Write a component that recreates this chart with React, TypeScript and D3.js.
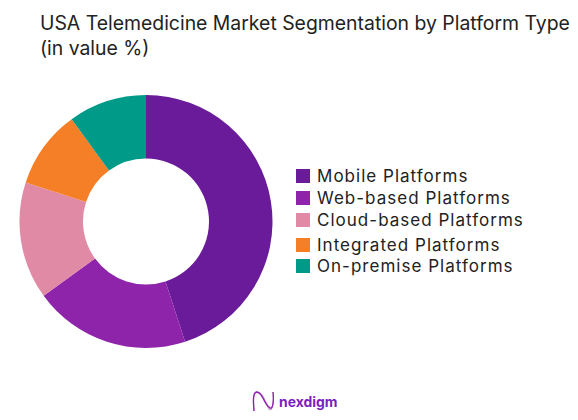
import React from 'react';
import * as d3 from 'd3';

const categories = ['Mobile Platforms', 'Web-based Platforms', 'Cloud-based Platforms', 'Integrated Platforms', 'On-premise Platforms'];
const shares = [45, 20, 15, 10, 10];
const colors = ['#6a1b9a', '#8e24aa', '#e08aa6', '#f57f26', '#009a88'];
const titleLines = ['USA Telemedicine Market Segmentation by Platform Type', '(in value %)'];
const legendRows = [176, 198, 220, 245, 266];

const width = 578;
const height = 420;

// logo waves, just decoration
const wave = (a: number, b: number) =>
  `M254 411 C 253 400, 253 392, 257 392 C 263 393, 264 ${a}, 269 ${b} C 273 412, 274 400, 273 392`;

const App: React.FC = () => {
  const pie = d3.pie<number>().sort(null).value(d => d);
  const arc = d3.arc<d3.PieArcDatum<number>>().innerRadius(63).outerRadius(126.5);
  const slices = pie(shares);

  return (
    <svg
      width={width}
      height={height}
      style={{ position: 'absolute', left: 0, top: 0, background: '#fff', display: 'block' }}
    >
      {titleLines.map((t, i) => (
        <text key={t} x={40} y={30 + i * 25} fontFamily="Inter, sans-serif" fontSize={19.4} fill="#222">
          {t}
        </text>
      ))}

      <g transform="translate(146,221.5)">
        {slices.map((s, i) => (
          <path key={categories[i]} d={arc(s) || ''} fill={colors[i]} />
        ))}
      </g>

      {categories.map((c, i) => (
        <g key={c}>
          <rect x={296} y={legendRows[i] - 7} width={14} height={14} fill={colors[i]} />
          <text x={317} y={legendRows[i] + 6} fontFamily="Inter, sans-serif" fontSize={17} fill="#222" letterSpacing={1.02}>
            {c}
          </text>
        </g>
      ))}

      <g fill="none" strokeWidth={1.3}>
        <path d={wave(399, 409)} stroke="#c79ad6" />
        <path d={wave(404, 407)} stroke="#8e24aa" />
      </g>
      <text x={279} y={407} fontFamily="Inter, sans-serif" fontWeight={700} fontSize={13.9} fill="#7b1fc2">
        nexdigm
      </text>
    </svg>
  );
};

export default App;
